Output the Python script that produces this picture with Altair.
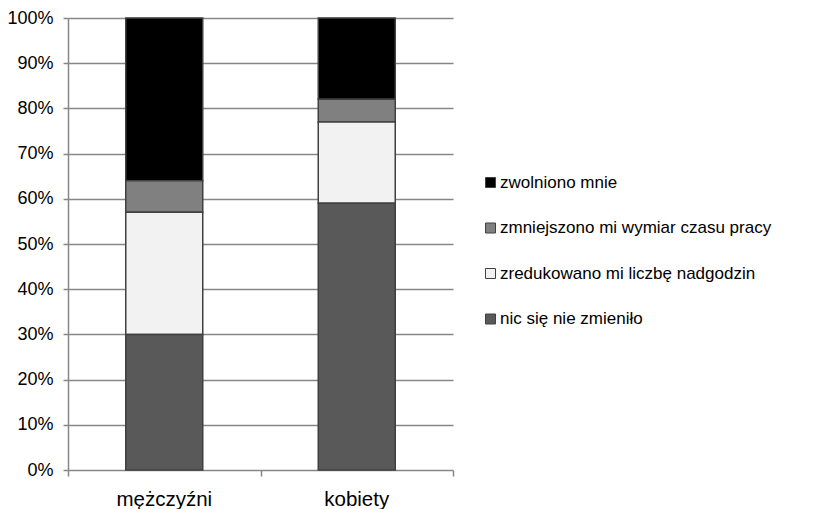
import altair as alt
import pandas as pd

groups = ["mężczyźni", "kobiety"]
series = [
    "zwolniono mnie",
    "zmniejszono mi wymiar czasu pracy",
    "zredukowano mi liczbę nadgodzin",
    "nic się nie zmieniło",
]
colors = ["#000000", "#808080", "#f2f2f2", "#595959"]
stack_order = [3, 2, 1, 0]
men = [36, 7, 27, 30]
women = [18, 5, 18, 59]
y_ticks = [0, 0.1, 0.2, 0.3, 0.4, 0.5, 0.6, 0.7, 0.8, 0.9, 1.0]
x_boundaries = [0, 1, 2]

rows = []
for g, vals in zip(groups, [men, women]):
    for s, v, o in zip(series, vals, stack_order):
        rows.append({"grupa": g, "odp": s, "pct": v / 100, "kolej": o})
df = pd.DataFrame(rows)
ticks_df = pd.DataFrame({"pos": x_boundaries})

grey = "#878787"

bars = alt.Chart(df).mark_bar(
    width=alt.RelativeBandSize(0.4), stroke="#404040", strokeWidth=1.5
).encode(
    x=alt.X(
        "grupa:N",
        sort=groups,
        title=None,
        scale=alt.Scale(paddingInner=0, paddingOuter=0),
        axis=alt.Axis(
            labelAngle=0, ticks=False, domain=False, grid=False,
            labelFontSize=20.5, labelColor="black", labelPadding=19,
        ),
    ),
    y=alt.Y(
        "pct:Q",
        stack="zero",
        title=None,
        scale=alt.Scale(domain=[0, 1], nice=False),
        axis=alt.Axis(
            values=y_ticks, format=".0%", grid=True, gridColor=grey, gridWidth=1.5,
            domainColor=grey, domainWidth=1.5, tickColor=grey, tickWidth=1.5, tickSize=5,
            labelFontSize=18, labelColor="black", labelPadding=10,
        ),
    ),
    color=alt.Color(
        "odp:N",
        scale=alt.Scale(domain=series, range=colors),
        legend=alt.Legend(
            title=None, orient="none", legendX=414, legendY=156,
            symbolType="square", symbolSize=100, symbolStrokeColor="#404040",
            symbolStrokeWidth=1, labelFontSize=17, labelColor="black",
            labelOffset=1, rowPadding=27.5, padding=0, labelLimit=500,
        ),
    ),
    order=alt.Order("kolej:Q"),
)

tick_layer = alt.Chart(ticks_df).mark_point(opacity=0).encode(
    x=alt.X(
        "pos:Q",
        title=None,
        scale=alt.Scale(domain=[0, 2], nice=False, zero=False),
        axis=alt.Axis(
            values=x_boundaries, labels=False, domain=False, grid=False, orient="bottom",
            tickColor=grey, tickWidth=1.5, tickSize=6,
        ),
    )
)

chart = (
    alt.layer(bars, tick_layer)
    .resolve_scale(x="independent")
    .properties(
        width=385,
        height=452,
        autosize=alt.AutoSizeParams(type="none"),
        padding={"left": 60, "top": 10, "right": 360, "bottom": 39},
    )
    .configure_view(stroke=None)
)

chart.save("out.html", embed_options={"renderer": "svg", "actions": False})
